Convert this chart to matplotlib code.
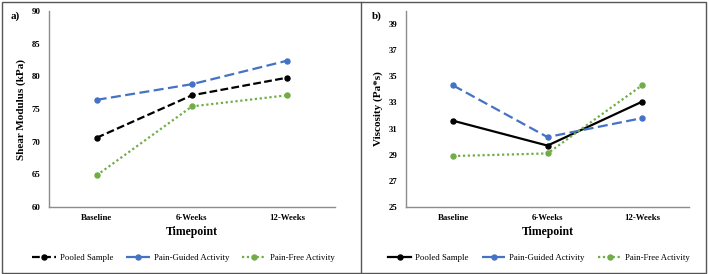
import matplotlib
matplotlib.use("Agg")
import matplotlib.pyplot as plt
from matplotlib.patches import Rectangle
from matplotlib.lines import Line2D

categories = ["Baseline", "6-Weeks", "12-Weeks"]
series_names = ["Pooled Sample", "Pain-Guided Activity", "Pain-Free Activity"]

shear_pooled = [70.6, 77.1, 79.8]
shear_guided = [76.4, 78.8, 82.4]
shear_free = [64.85, 75.4, 77.1]

visc_pooled = [31.6, 29.7, 33.05]
visc_guided = [34.3, 30.35, 31.8]
visc_free = [28.9, 29.1, 34.3]

shear_ticks = [60, 65, 70, 75, 80, 85, 90]
visc_ticks = [25, 27, 29, 31, 33, 35, 37, 39]

plt.rcParams['font.family'] = ['Liberation Serif', 'DejaVu Serif']

W, H = 709, 274
fig = plt.figure(figsize=(W / 100, H / 100), dpi=100)

# borders
fig.patches.append(Rectangle((1.5 / W, 1.5 / H), (705.5 - 1.5) / W, (272 - 1.5) / H,
                             transform=fig.transFigure, fill=False, edgecolor='#555555', lw=1.0))
fig.lines.append(Line2D([360.5 / W, 360.5 / W], [2 / H, 272.5 / H], transform=fig.transFigure,
                        color='#555555', lw=1.0))

blue = '#4472C4'
green = '#70AD47'

def make_panel(rect, data, styles, ticks, ylim, ylabel, tag, tagx):
    ax = fig.add_axes(rect)
    x = range(len(categories))
    handles = []
    for vals, (name, col, ls) in zip(data, styles):
        h, = ax.plot(x, vals, color=col, linestyle=ls, lw=1.6, marker='o', ms=3.6,
                     label=name)
        handles.append(h)
    ax.set_xlim(-0.5, 2.5)
    ax.set_ylim(*ylim)
    ax.set_yticks(ticks)
    ax.set_xticks(list(x))
    ax.set_xticklabels(categories)
    for lab in ax.get_xticklabels() + ax.get_yticklabels():
        lab.set_fontweight('bold')
        lab.set_fontsize(6.3)
    ax.tick_params(length=0, pad=6)
    ax.tick_params(axis='x', pad=5)
    for s in ['top', 'right']:
        ax.spines[s].set_visible(False)
    for s in ['left', 'bottom']:
        ax.spines[s].set_color('#8c8c8c')
        ax.spines[s].set_linewidth(1.0)
    ax.set_xlabel('Timepoint', fontsize=8.5, fontweight='bold', labelpad=3)
    ax.set_ylabel(ylabel, fontsize=8, fontweight='bold', labelpad=4)
    fig.text(tagx / W, 1 - 16 / H, tag, fontsize=8, fontweight='bold', va='center', ha='left')
    ax.legend(handles=handles, loc='center', bbox_to_anchor=(0.47, (274 - 258 - 67) / 196),
              ncol=3, frameon=False, fontsize=6.3, handlelength=2.7, handletextpad=0.45,
              columnspacing=1.5, borderaxespad=0)
    return ax

left_rect = [49 / W, (274 - 207) / H, 286 / W, 196 / H]
right_rect = [406 / W, (274 - 207) / H, 283 / W, 196 / H]

make_panel(left_rect, [shear_pooled, shear_guided, shear_free],
           [(series_names[0], 'black', (0, (3.5, 1.5))),
            (series_names[1], blue, (0, (4.5, 2))),
            (series_names[2], green, (0, (1, 1.2)))],
           shear_ticks, (60, 90), 'Shear Modulus (kPa)', 'a)', 11)

make_panel(right_rect, [visc_pooled, visc_guided, visc_free],
           [(series_names[0], 'black', '-'),
            (series_names[1], blue, (0, (4.5, 2))),
            (series_names[2], green, (0, (1, 1.2)))],
           visc_ticks, (25, 40), 'Viscosity (Pa*s)', 'b)', 372)

fig.savefig('out.png', dpi=100)
